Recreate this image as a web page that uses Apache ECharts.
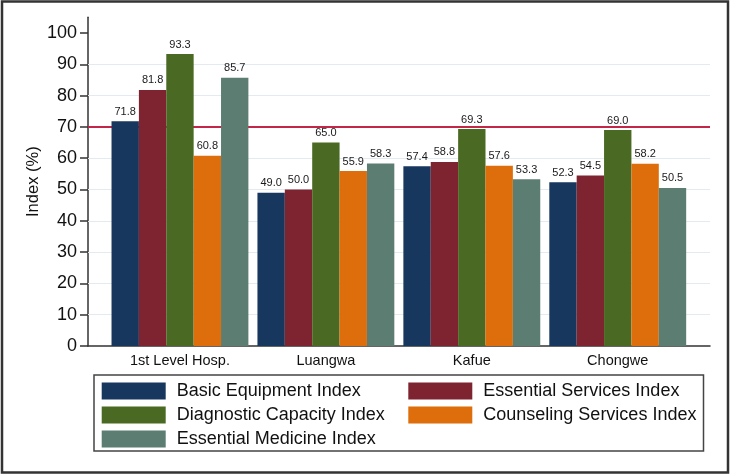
<!DOCTYPE html>
<html>
<head>
<meta charset="utf-8">
<script src="https://cdn.jsdelivr.net/npm/echarts@6/dist/echarts.min.js"></script>
<style>html,body{margin:0;padding:0;background:#fff;}#c{width:730px;height:475px;}</style>
</head>
<body>
<div id="c"></div>
<script>
const categories = ['1st Level Hosp.', 'Luangwa', 'Kafue', 'Chongwe'];
const basicEquipment = [71.8, 49.0, 57.4, 52.3];
const essentialServices = [81.8, 50.0, 58.8, 54.5];
const diagnosticCapacity = [93.3, 65.0, 69.3, 69.0];
const counselingServices = [60.8, 55.9, 57.6, 58.2];
const essentialMedicine = [85.7, 58.3, 53.3, 50.5];
const seriesNames = ['Basic Equipment Index', 'Essential Services Index', 'Diagnostic Capacity Index', 'Counseling Services Index', 'Essential Medicine Index'];
const yTicks = [0, 10, 20, 30, 40, 50, 60, 70, 80, 90, 100];
const gridLineValues = [10, 20, 30, 40, 50, 60, 80, 90];
const referenceValue = 70;

const colors = ['#18375e', '#7e2430', '#4a6a24', '#de6d0b', '#5c7d71'];
const seriesData = [basicEquipment, essentialServices, diagnosticCapacity, counselingServices, essentialMedicine];
const FONT = 'Liberation Sans, Arial, sans-serif';

const chart = echarts.init(document.getElementById('c'), null, {renderer: 'canvas'});

const barSeries = seriesData.map((d, i) => ({
  name: seriesNames[i],
  type: 'bar',
  xAxisIndex: 0,
  yAxisIndex: 0,
  z: 3,
  data: d,
  barGap: '0%',
  barCategoryGap: '6.2%',
  itemStyle: {color: colors[i]},
  label: {
    show: true, position: 'top', distance: 4,
    fontSize: 11, color: '#1a1a1a', fontFamily: FONT,
    formatter: p => p.value.toFixed(1)
  }
}));

const option = {
  animation: false,
  backgroundColor: '#fff',
  grid: [
    {left: 107, right: 39.3, top: 17.35, bottom: 129},
    {left: 88, right: 20, top: 17.35, bottom: 129}
  ],
  xAxis: [
    {type: 'category', gridIndex: 0, data: categories,
     axisLine: {show: false}, axisTick: {show: false},
     axisLabel: {fontSize: 14.5, color: '#111', fontFamily: FONT, margin: 7}},
    {type: 'value', gridIndex: 1, min: 0, max: 1,
     axisLine: {show: true, onZero: false, lineStyle: {color: '#333', width: 1.5}},
     axisTick: {show: false}, axisLabel: {show: false}, splitLine: {show: false}}
  ],
  yAxis: [
    {type: 'value', gridIndex: 0, min: 0, max: 105, show: false, splitLine: {show: false}},
    {type: 'value', gridIndex: 1, min: 0, max: 105,
     name: 'Index (%)', nameLocation: 'middle', nameGap: 46, nameMoveOverlap: false,
     nameTextStyle: {fontSize: 16.5, color: '#111', fontFamily: FONT},
     axisLine: {show: true, lineStyle: {color: '#333', width: 1.5}},
     axisTick: {show: true, length: 8, customValues: yTicks, lineStyle: {color: '#333', width: 1.5}},
     axisLabel: {customValues: yTicks, fontSize: 18, color: '#111', fontFamily: FONT, margin: 11},
     splitLine: {show: false}}
  ],
  legend: [
    {data: [seriesNames[0], seriesNames[2], seriesNames[4]], orient: 'vertical',
     left: 101.7, top: 382, itemWidth: 64, itemHeight: 17, itemGap: 6, icon: 'rect',
     padding: 0, selectedMode: false,
     textStyle: {fontSize: 18, color: '#111', fontFamily: FONT, lineHeight: 17, padding: [0, 0, 0, 6]}},
    {data: [seriesNames[1], seriesNames[3]], orient: 'vertical',
     left: 408.3, top: 382, itemWidth: 64, itemHeight: 17, itemGap: 6, icon: 'rect',
     padding: 0, selectedMode: false,
     textStyle: {fontSize: 18, color: '#111', fontFamily: FONT, lineHeight: 17, padding: [0, 0, 0, 6]}}
  ],
  graphic: [
    {type: 'rect', shape: {x: 2, y: 1.5, width: 726, height: 471}, style: {fill: 'none', stroke: '#333', lineWidth: 2.5}, silent: true},
    {type: 'rect', shape: {x: 94, y: 375, width: 609.5, height: 76}, style: {fill: 'none', stroke: '#444', lineWidth: 1.5}, silent: true}
  ],
  series: [
    {type: 'scatter', xAxisIndex: 1, yAxisIndex: 1, data: [[0, 0]], symbolSize: 0, silent: true, z: 1,
     markLine: {silent: true, symbol: 'none', label: {show: false}, z: 1,
       lineStyle: {color: '#e3ebf1', width: 1, type: 'solid'},
       data: gridLineValues.map(v => ({yAxis: v}))}},
    {type: 'scatter', xAxisIndex: 1, yAxisIndex: 1, data: [[0, 0]], symbolSize: 0, silent: true, z: 1,
     markLine: {silent: true, symbol: 'none', label: {show: false}, z: 1,
       lineStyle: {color: '#c4264a', width: 2, type: 'solid'},
       data: [{yAxis: referenceValue}]}}
  ].concat(barSeries)
};
chart.setOption(option);
</script>
</body>
</html>
